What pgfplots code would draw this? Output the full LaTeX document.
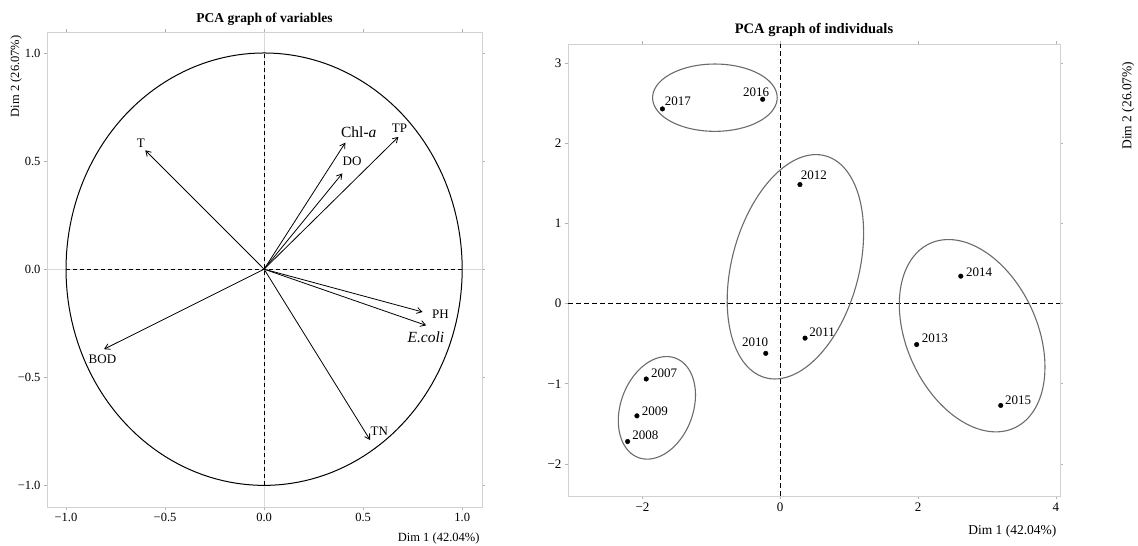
\documentclass[border=0pt]{standalone}
\usepackage{pgfplots}
\pgfplotsset{compat=1.18}
\usepackage{pgfplotstable}
\usepackage{fontspec}
\setmainfont{Liberation Serif}
\usetikzlibrary{arrows.meta}

\pgfplotstableread{
year x y
2007 -1.945 -0.94
2008 -2.215 -1.72
2009 -2.08 -1.40
2010 -0.21 -0.62
2011 0.36 -0.43
2012 0.286 1.486
2013 1.98 -0.51
2014 2.62 0.343
2015 3.20 -1.27
2016 -0.255 2.55
2017 -1.71 2.43
}\indiv

\pgfplotsset{
  pcabase/.style={
    scale only axis,
    axis line style={draw=black!18, line width=0.9pt},
    tick style={draw=black!30, line width=0.6pt},
    tick align=outside,
    major tick length=3pt,
    /pgf/number format/assume math mode=true,
    clip=false,
  },
  arr/.style={-{Straight Barb[length=5pt,width=6pt]}, black, line width=0.8pt, no marks},
}

\begin{document}
\begin{tikzpicture}[x=1pt,y=1pt]
\useasboundingbox (0,0) rectangle (1138,546);

% ---------- Left: variables ----------
\begin{axis}[pcabase,
  at={(47pt,39pt)}, anchor=south west,
  width=435pt, height=475pt,
  xmin=-1.096, xmax=1.10, ymin=-1.10, ymax=1.097,
  xtick={-1,-0.5,0,0.5,1}, ytick={-1,-0.5,0,0.5,1},
  xticklabels={−1.0,−0.5,0.0,0.5,1.0},
  yticklabels={−1.0,−0.5,0.0,0.5,1.0},
  ticklabel style={font=\fontsize{12.5}{14}\selectfont},
  title={\textbf{PCA graph of variables}},
  title style={at={(rel axis cs:0.5,1)}, anchor=base, yshift=3pt, font=\fontsize{13.5}{15}\selectfont},
  xlabel={Dim 1 (42.04\%)},
  xlabel style={at={(rel axis cs:1,0)}, anchor=base east, yshift=-34.7pt, xshift=1pt, font=\fontsize{12.5}{14}\selectfont},
  ylabel={Dim 2 (26.07\%)},
  ylabel style={at={(rel axis cs:0,1)}, anchor=east, yshift=31pt, font=\fontsize{12.5}{14}\selectfont},
]
\addplot[black!15, line width=0.6pt, no marks] coordinates {(0,-1.10) (0,1.097)};
\addplot[black!15, line width=0.6pt, no marks] coordinates {(-1.096,0) (1.10,0)};
\addplot[black, dash pattern=on 4pt off 3pt, line width=0.9pt, no marks] coordinates {(-1,0) (1,0)};
\addplot[black, dash pattern=on 4pt off 3pt, line width=0.9pt, no marks] coordinates {(0,-1) (0,1)};
\addplot[black, line width=1pt, domain=0:360, samples=181, no marks] ({cos(x)}, {sin(x)});

\addplot[arr] coordinates {(0,0) (-0.60,0.55)};
\addplot[arr] coordinates {(0,0) (0.41,0.585)};
\addplot[arr] coordinates {(0,0) (0.395,0.443)};
\addplot[arr] coordinates {(0,0) (0.678,0.612)};
\addplot[arr] coordinates {(0,0) (0.80,-0.198)};
\addplot[arr] coordinates {(0,0) (0.818,-0.26)};
\addplot[arr] coordinates {(0,0) (-0.808,-0.37)};
\addplot[arr] coordinates {(0,0) (0.535,-0.79)};

\begin{scope}[every node/.style={inner sep=0pt, font=\fontsize{13}{15}\selectfont}]
\node at (axis cs:-0.622,0.582) {T};
\node[font=\fontsize{15.5}{17}\selectfont] at (axis cs:0.478,0.632) {Chl-\textit{a}};
\node at (axis cs:0.683,0.650) {TP};
\node at (axis cs:0.444,0.50) {DO};
\node at (axis cs:0.890,-0.209) {PH};
\node[font=\fontsize{15.5}{17}\selectfont] at (axis cs:0.817,-0.317) {\textit{E.coli}};
\node at (axis cs:-0.816,-0.416) {BOD};
\node at (axis cs:0.582,-0.749) {TN};
\end{scope}
\end{axis}

% ---------- Right: individuals ----------
\begin{axis}[pcabase,
  at={(568pt,50pt)}, anchor=south west,
  width=492pt, height=452pt,
  xmin=-3.08, xmax=4.06, ymin=-2.40, ymax=3.24,
  xtick={-2,0,2,4}, ytick={-2,-1,0,1,2,3},
  xticklabels={−2,0,2,4},
  yticklabels={−2,−1,0,1,2,3},
  ticklabel style={font=\fontsize{13}{15}\selectfont},
  title={\textbf{PCA graph of individuals}},
  title style={at={(rel axis cs:0.5,1)}, anchor=base, yshift=4pt, font=\fontsize{14.5}{16}\selectfont},
  xlabel={Dim 1 (42.04\%)},
  xlabel style={at={(rel axis cs:1,0)}, anchor=base east, yshift=-38pt, font=\fontsize{13.5}{15}\selectfont},
  ylabel={Dim 2 (26.07\%)},
  ylabel style={at={(rel axis cs:1,1)}, anchor=east, xshift=-14pt, yshift=-68pt, font=\fontsize{13.5}{15}\selectfont},
]
\addplot[black, dash pattern=on 5pt off 3pt, line width=1.2pt, no marks] coordinates {(-3.08,0) (4.06,0)};
\addplot[black, dash pattern=on 5pt off 3pt, line width=1.2pt, no marks] coordinates {(0,-2.40) (0,3.24)};

% confidence ellipses: centre (cx,cy), x-extent A, y-extent B, phase phi
\addplot[black!58, line width=1.1pt, domain=0:360, samples=121, no marks] ({-0.948+0.904*cos(x)}, {2.57+0.42*cos(x-90)});
\addplot[black!58, line width=1.1pt, domain=0:360, samples=121, no marks] ({0.22+0.99*cos(x)}, {0.46+1.40*cos(x-72.5)});
\addplot[black!58, line width=1.1pt, domain=0:360, samples=121, no marks] ({-1.79+0.56*cos(x)}, {-1.30+0.64*cos(x-75.5)});
\addplot[black!58, line width=1.1pt, domain=0:360, samples=121, no marks] ({2.785+1.057*cos(x)}, {-0.40+1.20*cos(x-109)});

\addplot[only marks, mark=*, mark size=2.3pt, black] table[x=x, y=y] {\indiv};

\begin{scope}[every node/.style={inner sep=0pt, font=\fontsize{13}{15}\selectfont}]
\node[anchor=base west] at (axis cs:-1.678,2.475) {2017};
\node[anchor=base east] at (axis cs:-0.160,2.591) {2016};
\node[anchor=base west] at (axis cs:0.296,1.549) {2012};
\node[anchor=base west] at (axis cs:2.695,0.343) {2014};
\node[anchor=base east] at (axis cs:-0.174,-0.539) {2010};
\node[anchor=base west] at (axis cs:0.421,-0.414) {2011};
\node[anchor=base west] at (axis cs:2.052,-0.489) {2013};
\node[anchor=base west] at (axis cs:3.261,-1.253) {2015};
\node[anchor=base west] at (axis cs:-1.877,-0.920) {2007};
\node[anchor=base west] at (axis cs:-2.012,-1.390) {2009};
\node[anchor=base west] at (axis cs:-2.148,-1.693) {2008};
\end{scope}
\end{axis}
\end{tikzpicture}
\end{document}
